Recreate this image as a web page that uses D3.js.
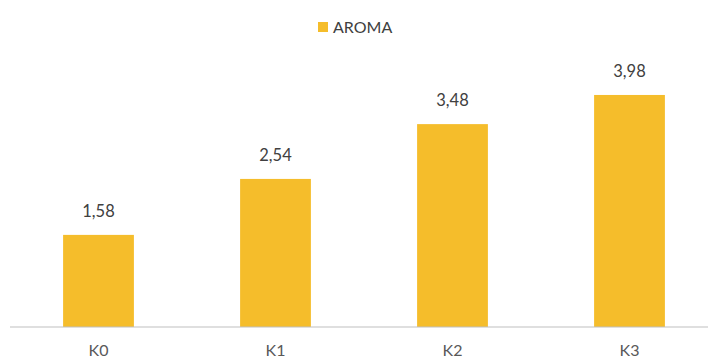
<!DOCTYPE html>
<html>
<head>
<meta charset="utf-8">
<script src="https://cdn.jsdelivr.net/npm/d3@7"></script>
<style>
  html, body { margin: 0; padding: 0; background: #fff; }
  svg { display: block; font-family: Lato, "Open Sans", sans-serif; }
</style>
</head>
<body>
<svg id="chart" width="708" height="363"></svg>
<script>
const categories = ["K0", "K1", "K2", "K3"];
const aroma = [1.58, 2.54, 3.48, 3.98];
const seriesName = "AROMA";

const W = 708, H = 363;
const barColor = "#F5BD2B";
const svg = d3.select("#chart");

const x = d3.scaleBand()
  .domain(categories)
  .range([10, 718])
  .paddingInner(0.6)
  .paddingOuter(0.3);

const y = d3.scaleLinear()
  .domain([0, 4.5])
  .range([327, 327 - 4.5 * 58.3]);

const fmt = v => d3.format(".2f")(v).replace(".", ",");

// bars
svg.append("g")
  .selectAll("rect")
  .data(aroma)
  .join("rect")
  .attr("x", (d, i) => x(categories[i]))
  .attr("y", d => y(d))
  .attr("width", x.bandwidth())
  .attr("height", d => y(0) - y(d))
  .attr("fill", barColor);

// value labels
svg.append("g")
  .selectAll("text")
  .data(aroma)
  .join("text")
  .attr("x", (d, i) => x(categories[i]) + x.bandwidth() / 2)
  .attr("y", d => y(d) - 18)
  .attr("text-anchor", "middle")
  .attr("font-size", 16.5)
  .attr("fill", "#404040")
  .text(d => fmt(d));

// category axis
const axis = svg.append("g")
  .attr("transform", `translate(0,${y(0)})`)
  .call(d3.axisBottom(x).tickSize(0).tickPadding(18));
axis.select(".domain").remove();
axis.selectAll("text")
  .attr("font-size", 16)
  .attr("font-family", "Lato, 'Open Sans', sans-serif")
  .attr("fill", "#595959");

svg.append("line")
  .attr("x1", 10).attr("x2", W)
  .attr("y1", y(0)).attr("y2", y(0))
  .attr("stroke", "#BFBFBF")
  .attr("stroke-width", 1.2);

// legend
const lg = svg.append("g").attr("transform", "translate(318,22)");
lg.append("rect").attr("width", 10).attr("height", 10).attr("fill", barColor);
lg.append("text")
  .attr("x", 15).attr("y", 5)
  .attr("dy", "0.35em")
  .attr("font-size", 16)
  .attr("fill", "#404040")
  .text(seriesName);
</script>
</body>
</html>
